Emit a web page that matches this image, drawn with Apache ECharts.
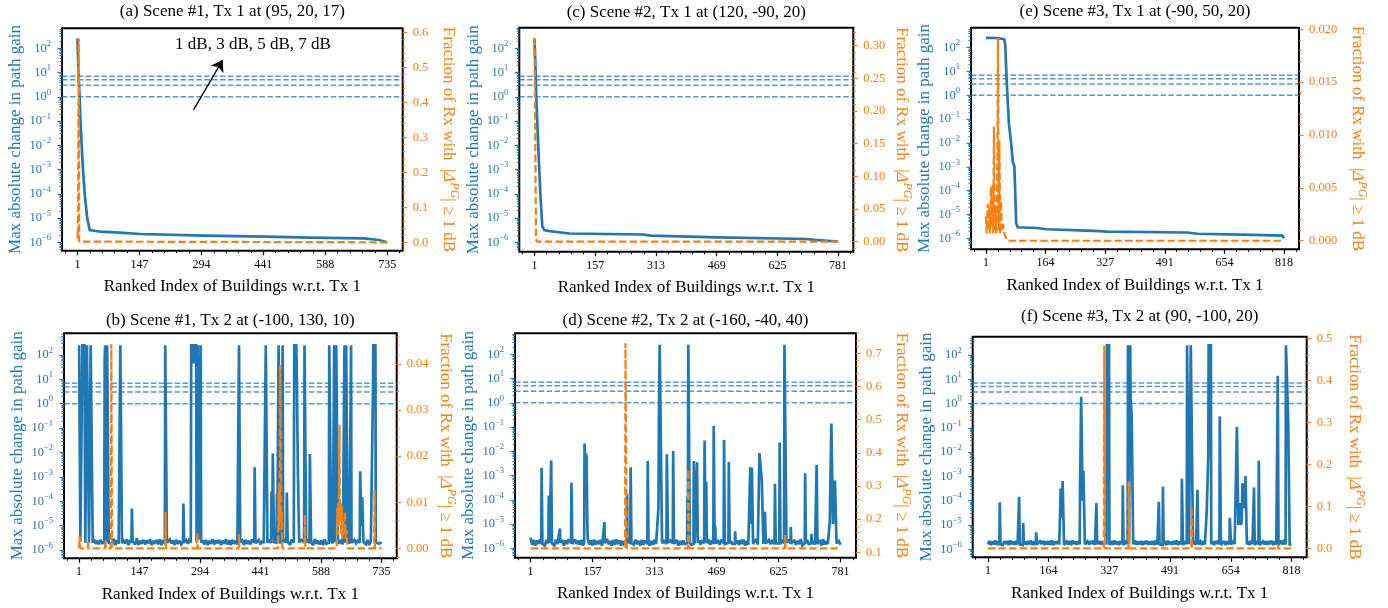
<!DOCTYPE html>
<html><head><meta charset="utf-8">
<script src="https://cdn.jsdelivr.net/npm/echarts@6/dist/echarts.min.js"></script>
<style>html,body{margin:0;padding:0;background:#fff}#c{width:1388px;height:608px}</style>
</head><body><div id="c"></div>
<script>
const BLUE = '#1f77b4', ORANGE = '#ff7f0e';
const FONT = '"Liberation Serif","Times New Roman",serif';

// ---------- text ----------
const titles = ['(a) Scene #1, Tx 1 at (95, 20, 17)', '(c) Scene #2, Tx 1 at (120, -90, 20)', '(e) Scene #3, Tx 1 at (-90, 50, 20)',
                '(b) Scene #1, Tx 2 at (-100, 130, 10)', '(d) Scene #2, Tx 2 at (-160, -40, 40)', '(f) Scene #3, Tx 2 at (90, -100, 20)'];
const xLabel = 'Ranked Index of Buildings w.r.t. Tx 1';
const yLeftLabel = 'Max absolute change in path gain';
const yRightLabel = 'Fraction of Rx with  |{g|Δ}{p|PG}| ≥ 1 dB';
const annotationText = '1 dB, 3 dB, 5 dB, 7 dB';
const thresholds = [1, 3, 5, 7];

// ---------- ticks ----------
const logTicks = [1e-6, 1e-5, 1e-4, 1e-3, 1e-2, 1e-1, 1, 10, 100];
const xTicks1 = [1, 147.8, 294.6, 441.4, 588.2, 735];
const xTickLabels1 = ['1', '147', '294', '441', '588', '735'];
const xTicks2 = [1, 157, 313, 469, 625, 781];
const xTickLabels2 = ['1', '157', '313', '469', '625', '781'];
const xTicks3 = [1, 164.4, 327.8, 491.2, 654.6, 818];
const xTickLabels3 = ['1', '164', '327', '491', '654', '818'];
const rTicksA = [0, 0.1, 0.2, 0.3, 0.4, 0.5, 0.6];
const rTicksC = [0, 0.05, 0.10, 0.15, 0.20, 0.25, 0.30];
const rTicksE = [0, 0.005, 0.010, 0.015, 0.020];
const rTicksB = [0, 0.01, 0.02, 0.03, 0.04];
const rTicksD = [0.1, 0.2, 0.3, 0.4, 0.5, 0.6, 0.7];
const rTicksF = [0, 0.1, 0.2, 0.3, 0.4, 0.5];

// ---------- data: top row (sorted curves) ----------
const blueA = [[1,250],[2,60],[3,18],[4,5],[6,1.0],[8,0.1],[11,0.01],[14,1e-3],[18,1e-4],[24,1e-5],[30,3.2e-6],[40,3.0e-6],[55,2.75e-6],[100,2.5e-6],[150,2.2e-6],[300,1.9e-6],[450,1.7e-6],[550,1.55e-6],[680,1.45e-6],[715,1.25e-6],[735,1.0e-6]];
const orangeA = [[1,0.026],[2,0.01],[3,0.01],[4,0.583],[5,0.002],[6,0],[735,0]];
const blueC = [[1,260],[3,30],[5,2],[8,0.1],[12,3e-3],[16,1e-4],[21,4.5e-6],[26,3.2e-6],[40,2.9e-6],[90,2.3e-6],[280,2.1e-6],[300,1.9e-6],[470,1.6e-6],[700,1.37e-6],[720,1.25e-6],[781,1.06e-6]];
const orangeC = [[1,0.312],[5,0.004],[7,0],[781,0]];
const blueE = [[1,260],[31,255],[51,230],[54,130],[57,8.4],[60,0.9],[64,0.068],[70,0.0098],[75,1.5e-3],[79,1.07e-3],[84,4.3e-6],[88,2.9e-6],[141,2.7e-6],[168,2.4e-6],[296,2.05e-6],[333,1.9e-6],[553,1.75e-6],[580,1.55e-6],[736,1.4e-6],[813,1.3e-6],[818,1.0e-6]];
const orangeE = [[1,0.0023],[3,0.0007],[6,0.0035],[7,0.001],[10,0.0032],[12,0.0007],[15,0.0051],[17,0.0013],[19,0.0054],[21,0.0007],[23,0.0108],[25,0.001],[27,0.0032],[29,0.0007],[32,0.0051],[34,0.0192],[36,0.001],[38,0.0094],[40,0.0007],[42,0.0038],[45,0.001],[48,0.0016],[51,0.0007],[57,0.0002],[60,0],[818,0]];

// ---------- data: bottom row ----------
// baseline noise, in units of 1e-6, sampled every BASE_STEP buildings starting at index 1
const BASE_STEP = 4, BASE_UNIT = 1e-6;
const baseB = [1.7,2.6,1.6,2.4,1.8,2.7,1.7,2.5,1.6,2.8,1.8,2.4,1.7,2.6,1.9,2.5,1.6,2.7,1.8,2.4,
1.7,2.9,1.6,2.5,1.8,2.6,1.7,2.4,1.9,2.7,1.6,2.5,1.8,2.6,1.7,3.1,1.6,2.4,1.8,2.6,
1.7,2.5,1.9,2.7,1.6,2.4,1.8,2.6,1.7,2.8,1.6,2.5,1.8,2.4,1.7,2.7,1.9,2.5,1.6,2.6,
1.8,2.4,1.7,2.7,1.6,2.5,1.8,3.0,1.7,2.6,1.9,2.4,1.6,2.7,1.8,2.5,1.7,2.6,1.6,2.4,
1.8,2.8,1.7,2.5,1.9,2.6,1.6,2.4,1.8,2.7,1.7,2.5,1.6,2.6,1.8,2.4,1.7,2.9,1.9,2.5,
1.6,2.6,1.8,2.4,1.7,2.7,1.6,2.5,1.8,2.6,1.7,2.4,1.9,2.8,1.6,2.5,1.8,2.6,1.7,2.4,
1.6,2.7,1.8,2.5,1.7,2.6,1.9,2.4,1.6,2.7,1.8,2.5,1.7,3.0,1.6,2.6,1.8,2.4,1.7,2.5,
1.9,2.6,1.6,2.8,1.8,2.4,1.7,2.5,1.6,2.7,1.8,2.6,1.7,2.4,1.9,2.5,1.6,2.7,1.8,2.6,
1.7,2.4,1.6,2.5,1.8,2.7,1.7,2.6,1.9,2.4,1.6,2.8,1.8,2.5,1.7,2.6,1.6,2.4,1.8,2.7,
1.7,2.5,1.8,2.6];
const spikesB = [[1,250],[3,250],[4,2.2e-6],[8,1.9e-6],[9,250],[14,250],[15,4e-3],[16,2.0e-6],
[19,2.1e-6],[20,250],[24,250],[25,1.9e-6],[28,2.2e-6],[29,250],[33,250],[34,2.0e-6],
[62,2.0e-6],[63,60],[64,250],[66,250],[67,2.1e-6],[68,1.9e-6],[69,250],[72,250],[73,2.0e-6],
[100,2.1e-6],[101,250],[104,250],[105,1.9e-6],[128,2.0e-6],[129,5e-5],[130,4.5e-5],[131,2.2e-6],
[209,1.9e-6],[210,250],[213,250],[214,2.0e-6],[253,2.1e-6],[254,8e-5],[255,7e-5],[256,2.0e-6],
[272,2.0e-6],[273,250],[278,250],[279,45],[280,250],[285,250],[286,2.1e-6],[288,1.9e-6],[289,250],[296,250],[297,2.0e-6],
[388,2.0e-6],[389,250],[391,250],[392,2.1e-6],[426,2.0e-6],[427,2.5e-3],[428,2.2e-3],[429,1.9e-6],
[453,2.1e-6],[454,250],[457,250],[458,2.0e-6],
[467,2.0e-6],[468,2.5e-4],[469,2.4e-4],[470,2e-5],[471,9e-3],[473,8.6e-3],[474,2.1e-6],[480,2.0e-6],[481,2.1e-4],[482,1.9e-6],
[484,2.0e-6],[485,250],[495,250],[496,2.1e-6],[504,2.0e-6],[505,2.3e-4],[506,2.1e-4],[507,2.2e-6],
[522,2.0e-6],[523,250],[528,250],[529,33],[531,33],[532,1.4e-3],[534,1.3e-3],[535,2.1e-6],
[547,2.0e-6],[548,250],[551,250],[552,2.1e-6],[560,1.9e-6],[561,8.6e-3],[563,8e-3],[564,2.0e-6],
[607,2.0e-6],[608,250],[620,250],[621,2.1e-6],[624,2.0e-6],[625,250],[645,250],[646,2.0e-6],[648,2.1e-6],[649,250],[661,250],[662,2.0e-6],
[682,2.0e-6],[683,1.7e-3],[685,1.6e-3],[686,1e-5],[688,1.5e-4],[690,1.4e-4],[691,2.1e-6],
[713,2.0e-6],[714,2.5],[715,250],[720,250],[721,2.1e-6],[735,2.1e-6]];
const orangeB = [[1,0],[2,0.0027],[3,0.0027],[4,0],[22,0],[23,0.0018],[24,0],[64,0],[65,0.0018],[66,0],[78,0],[79,0.0443],[80,0.0443],[81,0],
[210,0],[211,0.0079],[212,0],[287,0],[288,0.0033],[289,0],[388,0],[389,0.003],[390,0],
[484,0],[485,0.012],[486,0.004],[487,0.014],[488,0.006],[489,0.0398],[490,0.0398],[491,0.013],[492,0.004],[493,0.008],[494,0],
[548,0],[549,0.0072],[550,0],[626,0],[627,0.004],[628,0.009],[629,0.003],[630,0.01],[631,0.005],[633,0.0268],[634,0.006],[636,0.0101],[637,0.003],[639,0.009],[640,0.002],[642,0.006],[644,0.003],[646,0.008],[648,0.002],[650,0.004],[652,0],
[717,0],[718,0.0127],[719,0],[735,0]];

const baseD = [2.8,1.4,2.2,1.3,2.1,1.5,2.3,1.4,2.0,1.3,2.2,1.5,2.4,1.4,2.1,1.3,2.3,1.5,2.0,1.4,
2.2,1.3,2.1,1.5,2.4,1.4,2.0,1.3,2.3,1.5,2.1,1.4,2.2,1.3,2.0,1.5,2.4,1.4,2.1,1.3,
2.3,1.4,2.0,1.5,2.2,1.3,2.1,1.4,2.5,1.5,2.0,1.3,2.2,1.4,2.3,1.5,2.1,1.3,2.0,1.4,
2.4,1.5,2.2,1.3,2.1,1.4,2.3,1.5,2.0,1.3,2.2,1.4,2.1,1.5,2.4,1.3,2.0,1.4,2.3,1.5,
2.1,1.3,2.2,1.4,2.0,1.5,2.3,1.3,2.1,1.4,2.4,1.5,2.2,1.3,2.0,1.4,2.1,1.5,2.3,1.3,
2.2,1.4,2.0,1.5,2.4,1.3,2.1,1.4,2.2,1.5,2.0,1.3,2.3,1.4,2.1,1.5,2.2,1.3,2.0,1.4,
2.3,1.5,2.1,1.3,2.2,1.4,2.0,1.5,2.4,1.3,2.1,1.4,2.2,1.5,2.3,1.3,2.0,1.4,2.1,1.5,
2.2,1.3,2.4,1.4,2.0,1.5,2.1,1.3,2.3,1.4,2.2,1.5,2.0,1.3,2.1,1.4,2.4,1.5,2.2,1.3,
2.0,1.4,2.3,1.5,2.1,1.3,2.2,1.4,2.0,1.5,2.4,1.3,2.1,1.4,2.2,1.5,2.3,1.3,2.0,1.4,
2.1,1.5,2.2,1.3,2.4,1.4,2.0,1.5,2.3,1.3,2.1,1.4,2.2,1.5,2.0,1.4];
const spikesD = [[28,1.6e-6],[29,2.1e-3],[30,1.9e-3],[31,1.5e-6],[46,1.6e-6],[47,1.5e-4],[48,1.4e-4],[49,1.7e-6],[52,1.5e-6],[53,4.2e-3],[54,4e-3],[55,1.6e-6],
[74,1.5e-6],[75,6.5e-6],[76,1.7e-6],[103,1.6e-6],[104,5e-4],[105,4.5e-4],[106,1.5e-6],
[136,1.7e-6],[137,0.021],[138,0.02],[139,3e-3],[140,8e-3],[142,6e-3],[143,5.5e-3],[144,1e-5],[145,2.5e-6],
[186,1.5e-6],[187,1.2e-5],[188,1.6e-6],[243,1.6e-6],[244,1.8e-4],[245,1.7e-6],[252,1.5e-6],[253,2.2e-3],[254,2e-3],[255,1.6e-6],
[295,1.5e-6],[296,4e-3],[297,3.8e-3],[298,1.6e-6],[322,1.7e-6],[323,5e-5],[324,0.13],[325,0.12],[326,250],[331,250],[332,1.6e-6],
[343,1.5e-6],[344,7.5e-3],[346,7e-3],[347,1.7e-6],[359,1.6e-6],[360,0.0102],[361,0.0098],[362,1.5e-6],
[395,1.6e-6],[396,1.3e-4],[397,1e-5],[398,250],[401,250],[402,1.7e-6],
[411,1.5e-6],[412,4e-3],[413,3.6e-3],[414,1.6e-6],[419,1.5e-6],[420,3.5e-3],[421,3.3e-3],[422,1.7e-6],
[438,1.6e-6],[439,0.028],[440,0.027],[441,1e-5],[443,5.5e-4],[444,5e-4],[445,1.6e-6],
[461,1.5e-6],[462,0.11],[463,0.1],[464,1e-5],[466,7e-6],[467,1.6e-6],[487,1.6e-6],[488,0.029],[489,0.027],[490,1.5e-6],
[499,1.7e-6],[500,3.6e-3],[501,3.4e-3],[502,1.6e-6],[515,1.5e-6],[516,5e-6],[517,1.6e-6],
[553,1.6e-6],[554,2.2e-3],[556,2.2e-3],[557,1e-5],[558,2.1e-3],[560,2.2e-3],[561,1.5e-6],
[576,1.6e-6],[577,8.5e-3],[582,8e-3],[583,6.5e-4],[586,6e-4],[587,1.5e-6],[590,1.6e-6],[591,3.2e-5],[592,3e-5],[593,1.6e-6],
[615,1.5e-6],[616,4.6e-4],[617,4.3e-4],[618,1.6e-6],[627,1.6e-6],[628,0.023],[629,0.021],[630,1.5e-6],
[639,1.6e-6],[640,250],[644,250],[645,1.7e-6],[655,1.6e-6],[656,7.5e-6],[657,1.5e-6],
[691,1.6e-6],[692,1.25e-3],[693,1.2e-3],[694,1.6e-6],[707,1.6e-6],[708,4e-6],[709,1.5e-6],
[720,1.6e-6],[721,2.7e-3],[722,2.5e-3],[723,1.5e-6],
[753,1.6e-6],[754,1.2e-5],[756,1.2e-5],[758,0.14],[761,0.135],[762,1e-5],[767,6.3e-4],[770,6e-4],[771,1.6e-6]];
const orangeD = [[1,0.112],[239,0.112],[240,0.73],[242,0.73],[243,0.112],[397,0.112],[398,0.35],[400,0.35],[401,0.112],[641,0.112],[642,0.152],[643,0.112],[781,0.112]];

const baseF = [1.6,2.2,1.5,2.1,1.6,2.3,1.55,2.1,1.6,2.2,1.5,2.15,1.65,2.2,1.5,2.3,1.6,2.1,1.55,2.2,
1.6,2.15,1.5,2.25,1.65,2.1,1.55,2.2,1.6,2.3,1.5,2.1,1.6,2.2,1.55,2.15,1.65,2.25,1.5,2.1,
1.6,2.2,1.55,2.3,1.5,2.1,1.65,2.2,1.6,2.15,1.5,2.25,1.55,2.1,1.6,2.2,1.5,2.3,1.65,2.1,
1.55,2.2,1.6,2.15,1.5,2.25,1.6,2.1,1.55,2.2,1.65,2.3,1.5,2.1,1.6,2.2,1.55,2.15,1.6,2.25,
1.5,2.1,1.65,2.2,1.55,2.3,1.6,2.1,1.5,2.2,1.6,2.15,1.55,2.25,1.65,2.1,1.5,2.2,1.6,2.3,
1.55,2.1,1.6,2.2,1.5,2.15,1.65,2.25,1.55,2.1,1.6,2.2,1.5,2.3,1.6,2.1,1.55,2.2,1.65,2.15,
1.5,2.25,1.6,2.1,1.55,2.2,1.6,2.3,1.5,2.1,1.65,2.2,1.55,2.15,1.6,2.25,1.5,2.1,1.6,2.2,
1.55,2.3,1.65,2.1,1.5,2.2,1.6,2.15,1.55,2.25,1.6,2.1,1.5,2.2,1.65,2.3,1.55,2.1,1.6,2.2,
1.5,2.15,1.6,2.25,1.55,2.1,1.65,2.2,1.5,2.3,1.6,2.1,1.55,2.2,1.6,2.15,1.5,2.25,1.65,2.1,
1.55,2.2,1.6,2.3,1.5,2.1,1.6,2.2,1.55,2.15,1.65,2.25,1.5,2.1,1.6,2.2,1.55,2.3,1.6,2.1,
1.5,2.2,1.6,2.15,1.55];
const spikesF = [[32,1.5e-6],[33,8.6e-5],[34,8e-5],[35,1.6e-6],[84,1.5e-6],[85,1.45e-4],[86,1.3e-4],[87,1.6e-6],
[95,1.5e-6],[96,1.2e-5],[97,1.1e-5],[98,1.6e-6],[130,1.5e-6],[131,5e-6],[132,4.5e-6],[133,1.6e-6],
[196,1.6e-6],[197,3.2e-4],[199,3e-4],[200,2e-5],[202,6.5e-4],[205,7e-4],[206,1.5e-6],
[248,1.6e-6],[249,3.2e-4],[251,3e-4],[252,1.9],[255,1.8],[256,1e-4],[258,1.7e-3],[261,1.5e-3],[262,1.6e-6],
[292,1.5e-6],[293,8e-5],[294,7.5e-5],[295,1.6e-6],[320,1.6e-6],[321,250],[327,250],[328,1.5e-6],
[363,1.6e-6],[364,4.3e-4],[365,4e-4],[366,1.5e-6],
[377,1.6e-6],[378,250],[384,250],[385,1.7],[387,1.6],[388,0.29],[391,0.27],[392,1.6e-6],
[460,1.5e-6],[461,9e-5],[462,8.5e-5],[463,1.6e-6],[471,1.5e-6],[472,3.8e-4],[473,3.5e-4],[474,1.6e-6],
[522,1.6e-6],[523,8e-4],[525,7.5e-4],[526,1.5e-6],[536,1.6e-6],[537,250],[541,250],[542,1.6e-6],
[546,1.5e-6],[547,250],[552,250],[553,1.6e-6],[564,1.5e-6],[565,2.8e-4],[566,2.6e-4],[567,1.6e-6],
[589,1.6e-6],[590,4.2e-5],[592,4e-5],[594,7.6e-3],[595,250],[601,250],[602,1.6e-6],
[624,1.6e-6],[625,0.29],[627,0.28],[628,1.5e-6],[651,1.6e-6],[652,2e-5],[654,1.9e-5],[655,1.6e-6],
[670,1.6e-6],[671,0.11],[674,0.105],[675,1e-5],[676,2e-5],[679,8e-5],[681,7.5e-5],[682,1e-5],[684,1.5e-5],[686,5.2e-4],[688,5e-4],[689,5e-5],[692,1e-4],[694,1.05e-3],[697,1e-3],[698,1.6e-6],
[716,1.6e-6],[717,3.5e-4],[718,3.2e-4],[719,1.5e-6],[729,1.6e-6],[730,4.4e-3],[731,4e-3],[732,1.5e-6],
[780,1.6e-6],[781,14],[782,13],[783,1.5e-6],[802,1.6e-6],[803,250],[808,250],[809,0.21],[812,0.2],[813,1.6e-6],[818,1.6e-6]];
const orangeF = [[1,0],[313,0],[314,0.482],[315,0.482],[316,0],[379,0],[380,0.16],[381,0.16],[382,0],[548,0],[549,0.1],[550,0],[780,0],[781,0.008],[782,0],[818,0]];

// annotation in panel (a), in data coordinates
const arrowFrom = [276, 0.29], arrowTo = [345, 33], annotationAt = [417, 137];

// ---------- helpers ----------
function mergeBase(base, spikes) {
  const pts = [];
  base.forEach((v, k) => {
    const idx = 1 + k * BASE_STEP;
    if (!spikes.some(s => Math.abs(s[0] - idx) <= 2)) pts.push([idx, v * BASE_UNIT]);
  });
  return pts.concat(spikes).sort((a, b) => a[0] - b[0]);
}
function stepRange(origin, step, lo, hi) {
  const out = [];
  const k0 = Math.ceil((lo - origin) / step - 1e-9), k1 = Math.floor((hi - origin) / step + 1e-9);
  for (let k = k0; k <= k1; k++) out.push(+(origin + k * step).toFixed(6));
  return out;
}
const logMinor = [];
for (let n = -8; n <= 3; n++) for (let m = 2; m <= 9; m++) logMinor.push(m * Math.pow(10, n));

// ---------- layout ----------
const panels = [
  {grid:{left:62, top:28.3, width:340.7, height:222.4}, x:[-35.7,771.7], xt:xTicks1, xl:xTickLabels1, lg:[-6.346,2.825], r:[-0.024,0.6114], rt:rTicksA, rm:0.02, dec:1, rGap:35, lGap:37.5, tY:12.5, blue:blueA, orange:orangeA},
  {grid:{left:519.3, top:27.7, width:334, height:224}, x:[-38,820], xt:xTicks2, xl:xTickLabels2, lg:[-6.388,2.849], r:[-0.0153,0.3276], rt:rTicksC, rm:0.01, dec:2, rGap:37.5, lGap:37.5, tY:13.5, blue:blueC, orange:orangeC},
  {grid:{left:971, top:27.7, width:328, height:221.6}, x:[-39.85,858.85], xt:xTicks3, xl:xTickLabels3, lg:[-6.462,2.839], r:[-0.00081,0.02015], rt:rTicksE, rm:0.001, dec:3, rGap:47, lGap:37.5, tY:12.5, blue:blueE, orange:orangeE},
  {grid:{left:64, top:333.3, width:332.7, height:225}, x:[-35.7,771.7], xt:xTicks1, xl:xTickLabels1, lg:[-6.34,2.89], r:[-0.00217,0.04666], rt:rTicksB, rm:0.002, dec:2, rGap:38, lGap:37.5, tY:321.5, blue:mergeBase(baseB, spikesB), orange:orangeB},
  {grid:{left:515, top:333.3, width:341, height:224.4}, x:[-38,820], xt:xTicks2, xl:xTickLabels2, lg:[-6.388,2.866], r:[0.0837,0.7603], rt:rTicksD, rm:0.02, dec:1, rGap:34, lGap:37.5, tY:321.5, blue:mergeBase(baseD, spikesD), orange:orangeD},
  {grid:{left:972.7, top:336.7, width:334, height:220.6}, x:[-39.85,858.85], xt:xTicks3, xl:xTickLabels3, lg:[-6.329,2.753], r:[-0.0214,0.5038], rt:rTicksF, rm:0.02, dec:1, rGap:37, lGap:37.5, tY:317.5, blue:mergeBase(baseF, spikesF), orange:orangeF}
];

const option = {animation:false, backgroundColor:'#fff', title:[], grid:[], xAxis:[], yAxis:[], series:[]};
const noLine = {show:false, onZero:false};

panels.forEach((p, i) => {
  const g = p.grid;
  option.grid.push({left:g.left, top:g.top, width:g.width, height:g.height, show:true, borderColor:'#000', borderWidth:2, backgroundColor:'transparent'});
  option.title.push({text:titles[i], left:g.left + g.width/2, top:p.tY - 9, textAlign:'center', padding:0,
    textStyle:{fontFamily:FONT, fontSize:17, fontWeight:'normal', color:'#000'}});
  const xStep = (p.xt[1] - p.xt[0]) / 5;
  option.xAxis.push({gridIndex:i, type:'value', position:'bottom', min:p.x[0], max:p.x[1], axisLine:noLine, splitLine:{show:false},
    axisTick:{show:true, length:4.5, lineStyle:{color:'#000', width:1.2}, customValues:p.xt},
    axisLabel:{customValues:p.xt, margin:8, color:'#000', fontFamily:FONT, fontSize:12,
      formatter:v => { let b = 0; p.xt.forEach((t, k) => { if (Math.abs(t - v) < Math.abs(p.xt[b] - v)) b = k; }); return p.xl[b]; }},
    name:xLabel, nameLocation:'middle', nameGap:27.5, nameTextStyle:{fontFamily:FONT, fontSize:17, color:'#000'}});
  option.xAxis.push({gridIndex:i, type:'value', position:'bottom', min:p.x[0], max:p.x[1], axisLine:noLine, splitLine:{show:false},
    axisTick:{show:true, length:2.5, lineStyle:{color:'#000', width:1}, customValues:stepRange(p.xt[0], xStep, p.x[0], p.x[1])},
    axisLabel:{show:false}});
  option.yAxis.push({gridIndex:i, type:'log', logBase:10, position:'left', min:Math.pow(10, p.lg[0]), max:Math.pow(10, p.lg[1]),
    axisLine:noLine, splitLine:{show:false},
    axisTick:{show:true, length:4.5, lineStyle:{color:BLUE, width:1.2}, customValues:logTicks},
    axisLabel:{customValues:logTicks, margin:11, color:BLUE,
      formatter:v => { const e = Math.round(Math.log10(v)); return '{b|10}{s|' + (e < 0 ? '\u2212' + (-e) : e) + '}'; },
      rich:{b:{fontFamily:FONT, fontSize:12.5, color:BLUE, lineHeight:18}, s:{fontFamily:FONT, fontSize:8.5, color:BLUE, lineHeight:8, verticalAlign:'top'}}},
    name:yLeftLabel, nameLocation:'middle', nameGap:p.lGap, nameTextStyle:{fontFamily:FONT, fontSize:17, color:BLUE}});
  option.yAxis.push({gridIndex:i, type:'log', logBase:10, position:'left', min:Math.pow(10, p.lg[0]), max:Math.pow(10, p.lg[1]),
    axisLine:noLine, splitLine:{show:false},
    axisTick:{show:true, length:2.5, lineStyle:{color:BLUE, width:1}, customValues:logMinor},
    axisLabel:{show:false}});
  option.yAxis.push({gridIndex:i, type:'value', position:'right', min:p.r[0], max:p.r[1], axisLine:noLine, splitLine:{show:false},
    axisTick:{show:true, length:4.5, lineStyle:{color:ORANGE, width:1.2}, customValues:p.rt},
    axisLabel:{customValues:p.rt, margin:10, color:ORANGE, fontFamily:FONT, fontSize:12.5, formatter:v => v.toFixed(p.dec)},
    name:yRightLabel, nameLocation:'middle', nameRotate:-90, nameGap:p.rGap,
    nameTextStyle:{fontFamily:FONT, fontSize:17, color:ORANGE, lineHeight:22,
      rich:{g:{fontFamily:FONT, fontSize:17, fontStyle:'italic', color:ORANGE, lineHeight:22},
            p:{fontFamily:FONT, fontSize:12, fontStyle:'italic', color:ORANGE, lineHeight:12, verticalAlign:'top'}}}});
  option.yAxis.push({gridIndex:i, type:'value', position:'right', min:p.r[0], max:p.r[1], axisLine:noLine, splitLine:{show:false},
    axisTick:{show:true, length:2.5, lineStyle:{color:ORANGE, width:1}, customValues:stepRange(p.rt[0], p.rm, p.r[0], p.r[1])},
    axisLabel:{show:false}});

  const xi = 2*i, yl = 4*i, yr = 4*i + 2;
  thresholds.forEach(t => option.series.push({type:'line', xAxisIndex:xi, yAxisIndex:yl, data:[[p.x[0], t], [p.x[1], t]],
    symbol:'none', silent:true, lineStyle:{color:BLUE, opacity:0.75, width:1.5, type:[5.5, 2.4]}, z:1}));
  const blue = {type:'line', xAxisIndex:xi, yAxisIndex:yl, data:p.blue, symbol:'none', showSymbol:false,
    lineStyle:{color:BLUE, width:2.7, join:'miter', miterLimit:2}, itemStyle:{color:BLUE}, z:2};
  if (i === 0) {
    blue.markLine = {silent:true, symbol:['none', 'arrow'], symbolSize:[2, 11], label:{show:false},
      itemStyle:{color:'#000'}, lineStyle:{color:'#000', width:1.4, type:'solid'},
      data:[[{coord:arrowFrom, symbol:'none'}, {coord:arrowTo, symbol:'arrow', symbolSize:11, itemStyle:{color:'#000'}}]]};
    blue.markPoint = {silent:true, data:[{coord:annotationAt, symbol:'rect', symbolSize:1, itemStyle:{color:'rgba(0,0,0,0)'},
      label:{show:true, position:'inside', formatter:annotationText, color:'#000', fontFamily:FONT, fontSize:17}}]};
  }
  option.series.push(blue);
  option.series.push({type:'line', xAxisIndex:xi, yAxisIndex:yr, data:p.orange, symbol:'none', showSymbol:false,
    lineStyle:{color:ORANGE, width:2.2, type:[7.4, 3.2]}, itemStyle:{color:ORANGE}, z:3});
});

const chart = echarts.init(document.getElementById('c'), null, {renderer:'canvas', width:1388, height:608});
chart.setOption(option);
</script></body></html>
